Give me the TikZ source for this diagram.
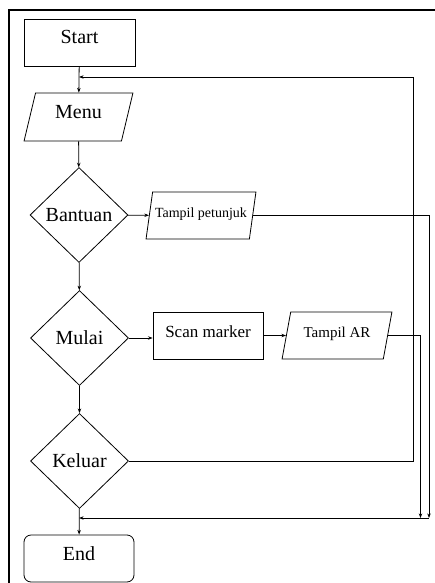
\documentclass[tikz,border=0pt]{standalone}
\usepackage{fontspec}
\setmainfont{Liberation Serif}
\usetikzlibrary{arrows.meta}
\usetikzlibrary{shapes.geometric}
\tikzstyle{Arrow}=[-{Stealth[scale=0.7]}]

\begin{document}
\begin{tikzpicture}[
  x=1pt, y=-1pt,
  line width=0.8pt,
  Big/.style={font=\fontsize{20}{24}\selectfont},
  Box/.style={draw, rectangle, minimum width=111pt, minimum height=47pt, inner sep=0, text height=14pt, text depth=11pt, Big},
  Data/.style={draw, trapezium, trapezium left angle=76, trapezium right angle=104, trapezium stretches=true, minimum width=110pt, minimum height=47pt, inner sep=0, text height=14pt, text depth=11pt},
  Decision/.style={draw, diamond, minimum width=98pt, minimum height=95pt, inner sep=0, Big}
]
\useasboundingbox (0,0) rectangle (434,583);

% frame
\draw[line width=1.6pt] (9,590) -- (9,10) -- (440,10);

\node[Box] (start) at (79.5,42.5) {Start};
\node[Data, Big, minimum height=48pt, minimum width=109pt] (menu) at (78.5,117) {Menu};
\node[Decision] (bantuan) at (79,215) {Bantuan};
\node[Data, font=\fontsize{14}{16}\selectfont] (petunjuk) at (201,215.5) {Tampil petunjuk};
\node[Decision] (mulai) at (79.5,338) {Mulai};
\node[Box, minimum width=110pt, font=\fontsize{17}{20}\selectfont] (scan) at (208,335.5) {Scan marker};
\node[Data, font=\fontsize{15}{18}\selectfont] (tampilar) at (337,335.5) {Tampil AR};
\node[Decision] (keluar) at (79.5,461) {Keluar};
\node[Box, rounded corners=7pt, minimum width=110pt] (end) at (79,558.5) {End};

\coordinate (menuin) at (79,77);
\coordinate (endin) at (79,518);
\coordinate (rloop) at (413,77);
\coordinate (rar) at (420.5,518);
\coordinate (rpet) at (429,518);

\draw[Arrow] (start) -- (menu);
\draw[Arrow] (menu) -- (bantuan);
\draw[Arrow] (bantuan) -- (petunjuk);
\draw[Arrow] (bantuan) -- (mulai);
\draw[Arrow] (mulai) -- (scan.west |- mulai.east);
\draw[Arrow] (scan) -- (tampilar);
\draw[Arrow] (mulai) -- (keluar);
\draw[Arrow] (keluar) -- (end);

\draw[Arrow] (petunjuk.east) -| (rpet);
\draw[Arrow] (tampilar.east) -| (rar);
\draw[Arrow] (keluar.east) -| (rloop) -- (menuin);
\draw[Arrow] (rpet) -- (endin);

\end{tikzpicture}
\end{document}
